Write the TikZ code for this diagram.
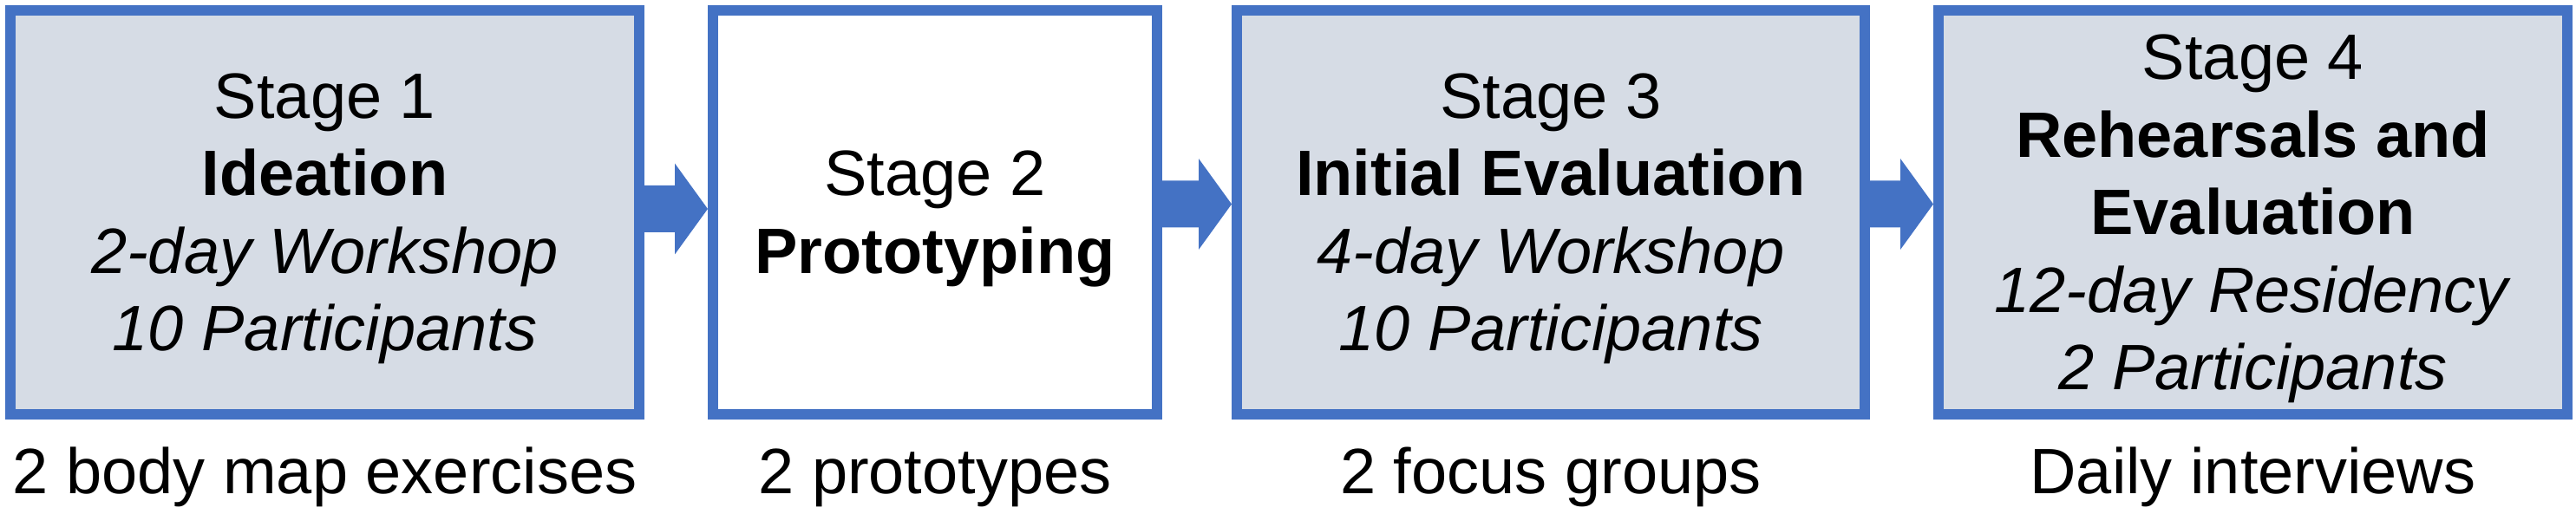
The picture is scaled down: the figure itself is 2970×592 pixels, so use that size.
\documentclass[tikz,border=0pt]{standalone}
\usepackage{fontspec}
\setmainfont{Liberation Sans}
\usetikzlibrary{positioning}
\definecolor{stageblue}{HTML}{4472C4}
\definecolor{stagefill}{HTML}{D6DCE5}
\newcommand{\ls}{\rule[-0.212em]{0pt}{1.117em}}
\newcommand{\stagearrow}[3]{%
\fill[stageblue] ([xshift=6pt,yshift=#3+27pt]#1.east) -- ([xshift=-44pt,yshift=#3+27pt]#2.west)
  -- ([xshift=-44pt,yshift=#3+52.5pt]#2.west) -- ([xshift=-6pt,yshift=#3]#2.west)
  -- ([xshift=-44pt,yshift=#3-52.5pt]#2.west) -- ([xshift=-44pt,yshift=#3-27pt]#2.west)
  -- ([xshift=6pt,yshift=#3-27pt]#1.east) -- cycle;}
\tikzset{
stagebox/.style={draw=stageblue, line width=12pt, minimum height=466pt, minimum width=725pt, inner sep=0pt, outer sep=0pt, align=center, font=\fontsize{74}{89.5}\selectfont},
notetext/.style={font=\fontsize{74}{89.5}\selectfont, anchor=base, inner sep=0pt}
}
\begin{document}
\begin{tikzpicture}[x=1pt, y=1pt]
\useasboundingbox (0,0) rectangle (2970,592);
\coordinate (base) at (0,22.5);
\node[stagebox, fill=stagefill] (s1) at (374.5,347) {\ls Stage 1\\\textbf{Ideation}\\\textit{2-day Workshop}\\\textit{10 Participants}\ls};
\node[stagebox, fill=white, minimum width=512pt, right=85pt of s1] (s2) {\ls Stage 2\\\textbf{Prototyping}\ls};
\node[stagebox, fill=stagefill, minimum width=724pt, right=92pt of s2] (s3) {\ls Stage 3\\\textbf{Initial Evaluation}\\\textit{4-day Workshop}\\\textit{10 Participants}\ls};
\node[stagebox, fill=stagefill, right=85pt of s3] (s4) {\ls Stage 4\\\textbf{Rehearsals and}\\\textbf{Evaluation}\\\textit{12-day Residency}\\\textit{2 Participants}\ls};
\stagearrow{s1}{s2}{4pt}
\stagearrow{s2}{s3}{9.5pt}
\stagearrow{s3}{s4}{9.5pt}
\node[notetext] (n1) at (s1.center |- base) {2 body map exercises};
\node[notetext] (n2) at (s2.center |- base) {2 prototypes};
\node[notetext] (n3) at (s3.center |- base) {2 focus groups};
\node[notetext] (n4) at (s4.center |- base) {Daily interviews};
\end{tikzpicture}
\end{document}
